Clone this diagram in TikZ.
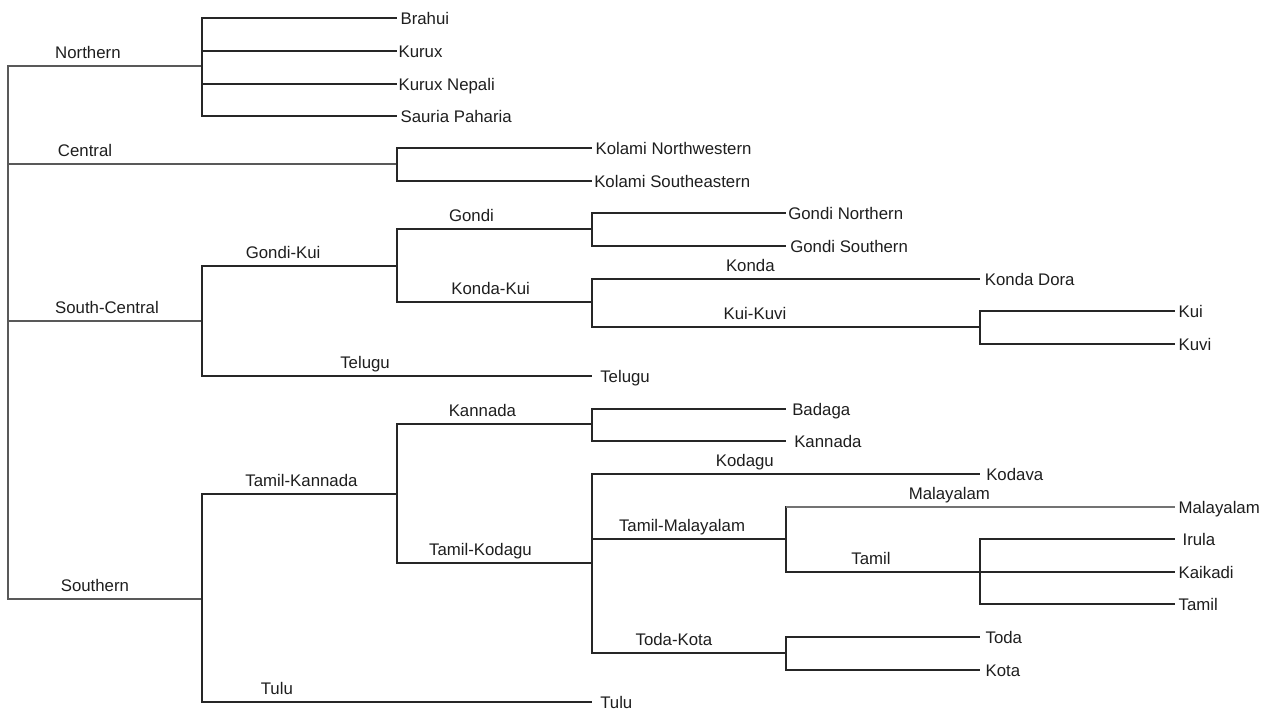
\documentclass[tikz,border=0pt]{standalone}
\usepackage{fontspec}
\setmainfont{Liberation Sans}
\definecolor{ink}{RGB}{30,30,30}
\tikzset{
	branch/.style={draw=black!85, line width=0.85pt},
	leaf/.style={anchor=west, inner xsep=2.5pt, inner ysep=0pt, text height=9.5pt, text depth=0.5pt, text=ink, font=\fontsize{12.6}{15}\selectfont},
	clade/.style={inner sep=0pt, yshift=10pt, text height=9.5pt, text depth=0.5pt, text=ink, font=\fontsize{12.6}{15}\selectfont},
}
\begin{document}
\begin{tikzpicture}[x=0.75pt,y=-0.75pt]
	\useasboundingbox (0,0) rectangle (1266,711);
	
	\coordinate (root) at (8,321);
	\coordinate (north) at (202,66);
	\coordinate (central) at (397,164);
	\coordinate (sc) at (202,321);
	\coordinate (gk) at (397,266);
	\coordinate (gondi) at (592,229);
	\coordinate (kk) at (592,302);
	\coordinate (kuikuvi) at (980,327);
	\coordinate (south) at (202,599);
	\coordinate (tk) at (397,494);
	\coordinate (kannada) at (592,424);
	\coordinate (tkod) at (592,563);
	\coordinate (tm) at (786,539);
	\coordinate (tamil) at (980,572);
	\coordinate (todakota) at (786,653);
	
	\node[leaf] (brahui) at (397,18) {Brahui};
	\node[leaf, inner xsep=1pt] (kurux) at (397,51) {Kurux};
	\node[leaf, inner xsep=1pt] (kuruxn) at (397,84) {Kurux Nepali};
	\node[leaf] (sauria) at (397,116) {Sauria Paharia};
	\node[leaf] (kolnw) at (592,148) {Kolami Northwestern};
	\node[leaf, inner xsep=1.5pt] (kolse) at (592,181) {Kolami Southeastern};
	\node[leaf, inner xsep=1.5pt] (gondin) at (786,213) {Gondi Northern};
	\node[leaf, inner xsep=3pt] (gondis) at (786,246) {Gondi Southern};
	\node[leaf, inner xsep=3.5pt] (kondad) at (980,279) {Konda Dora};
	\node[leaf] (kui) at (1175,311) {Kui};
	\node[leaf] (kuvi) at (1175,344) {Kuvi};
	\node[leaf, inner xsep=6pt] (telugu) at (592,376) {Telugu};
	\node[leaf, inner xsep=4.5pt] (badaga) at (786,409) {Badaga};
	\node[leaf, inner xsep=6pt] (kannadal) at (786,441) {Kannada};
	\node[leaf, inner xsep=4.5pt] (kodava) at (980,474) {Kodava};
	\node[leaf] (malayalam) at (1175,507) {Malayalam};
	\node[leaf, inner xsep=5.5pt] (irula) at (1175,539) {Irula};
	\node[leaf] (kaikadi) at (1175,572) {Kaikadi};
	\node[leaf] (tamill) at (1175,604) {Tamil};
	\node[leaf, inner xsep=4pt] (toda) at (980,637) {Toda};
	\node[leaf, inner xsep=4pt] (kota) at (980,670) {Kota};
	\node[leaf, inner xsep=6pt] (tulu) at (592,702) {Tulu};
	
	\draw[branch, draw=black!65] (root) |- node[clade, pos=0.706] {Northern} (north);
	\draw[branch, draw=black!65] (root) |- node[clade, pos=0.599] {Central} (central);
	\draw[branch, draw=black!65] (root) |- node[clade, pos=0.755] {South-Central} (sc);
	\draw[branch, draw=black!65] (root) |- node[clade, pos=0.724] {Southern} (south);
	
	\draw[branch] (north) |- (brahui.west);
	\draw[branch] (north) |- (kurux.west);
	\draw[branch] (north) |- (kuruxn.west);
	\draw[branch] (north) |- (sauria.west);
	
	\draw[branch] (central) |- (kolnw.west);
	\draw[branch] (central) |- (kolse.west);
	
	\draw[branch] (sc) |- node[clade, pos=0.708] {Gondi-Kui} (gk);
	\draw[branch] (sc) |- node[clade, pos=0.709] {Telugu} (telugu.west);
	\draw[branch] (gk) |- node[clade, pos=0.691] {Gondi} (gondi);
	\draw[branch] (gk) |- node[clade, pos=0.740] {Konda-Kui} (kk);
	\draw[branch] (gondi) |- (gondin.west);
	\draw[branch] (gondi) |- (gondis.west);
	\draw[branch] (kk) |- node[clade, pos=0.704] {Konda} (kondad.west);
	\draw[branch] (kk) |- node[clade, pos=0.710] {Kui-Kuvi} (kuikuvi);
	\draw[branch] (kuikuvi) |- (kui.west);
	\draw[branch] (kuikuvi) |- (kuvi.west);
	
	\draw[branch] (south) |- node[clade, pos=0.755] {Tamil-Kannada} (tk);
	\draw[branch] (south) |- node[clade, pos=0.596] {Tulu} (tulu.west);
	\draw[branch] (tk) |- node[clade, pos=0.719] {Kannada} (kannada);
	\draw[branch] (tk) |- node[clade, pos=0.714] {Tamil-Kodagu} (tkod);
	\draw[branch] (kannada) |- (badaga.west);
	\draw[branch] (kannada) |- (kannadal.west);
	\draw[branch] (tkod) |- node[clade, pos=0.697] {Kodagu} (kodava.west);
	\draw[branch] (tkod) |- node[clade, pos=0.732] {Tamil-Malayalam} (tm);
	\draw[branch] (tkod) |- node[clade, pos=0.711] {Toda-Kota} (todakota);
	\draw[branch] (tm) |- (malayalam.west);
	\draw[branch, draw=black!55] (tm |- malayalam.west) -- node[clade, pos=0.42] {Malayalam} (malayalam.west);
	\draw[branch] (tm) |- node[clade, pos=0.719] {Tamil} (tamil);
	\draw[branch] (tamil) |- (irula.west);
	\draw[branch] (tamil) |- (kaikadi.west);
	\draw[branch] (tamil) |- (tamill.west);
	\draw[branch] (todakota) |- (toda.west);
	\draw[branch] (todakota) |- (kota.west);
\end{tikzpicture}
\end{document}
